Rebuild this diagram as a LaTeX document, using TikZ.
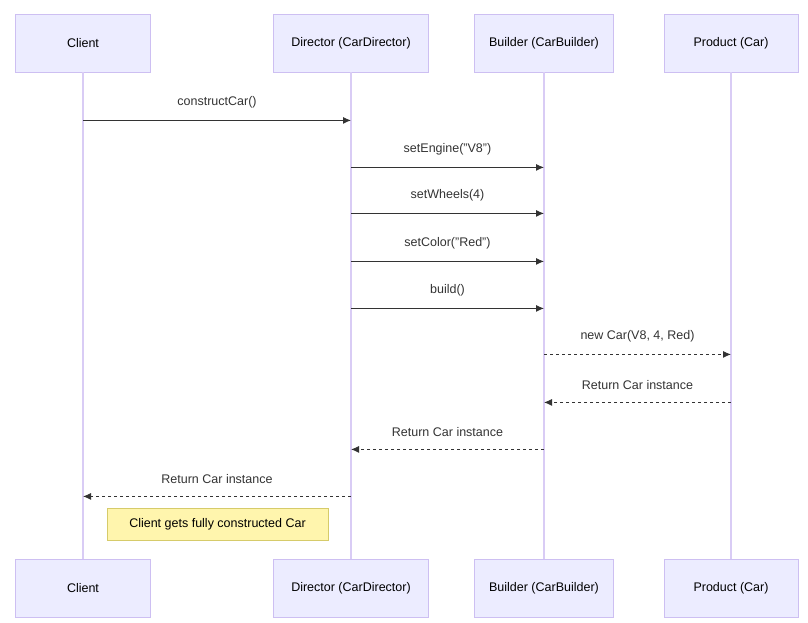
\documentclass[tikz,border=0pt]{standalone}
\usepackage{fontspec}
\setmainfont{Liberation Sans}
\usepackage{tikz}
\usetikzlibrary{arrows.meta,positioning,calc}
\definecolor{actorfill}{HTML}{ECECFF}
\definecolor{actorline}{HTML}{CDBFF2}
\definecolor{lifeline}{HTML}{D9CCF5}
\definecolor{notefill}{HTML}{FFF5AD}
\definecolor{noteline}{HTML}{D6CB6A}
\definecolor{msg}{HTML}{333333}
\tikzset{
  actor/.style={draw=actorline, fill=actorfill, line width=0.8pt, minimum height=58pt, inner sep=0pt, font=\fontsize{12.5}{14}\selectfont},
  call/.style={draw=msg, line width=0.9pt, -{Latex[length=8pt,width=7pt]}},
  reply/.style={call, dashed},
  lbl/.style={font=\fontsize{12.5}{14}\selectfont, text=msg},
}
\begin{document}
\begin{tikzpicture}[x=1pt,y=-1pt]

    \useasboundingbox (0,0) rectangle (808,622);

    % actors, top and bottom
    \foreach \name/\x/\w/\txt in {cl/83/135/Client, di/351/155/Director (CarDirector), bu/544/139/Builder (CarBuilder), pr/731/134/Product (Car)}{
      \node[actor, minimum width=\w pt] (\name top) at (\x,43) {\txt};
      \node[actor, minimum width=\w pt] (\name bot) at (\x,588) {\txt};
      \draw[lifeline, line width=1.2pt] (\name top.south) -- (\name bot.north);
    }

    % messages
    \draw[call] ($(cltop.south)+(0,48)$) -- ($(ditop.south)+(0,48)$)
      node[lbl, midway, above=9pt] {constructCar()};
    \foreach \y/\txt in {95/setEngine("V8"), 141/setWheels(4), 189/setColor("Red"), 236/build()}{
      \draw[call] ($(ditop.south)+(0,\y)$) -- ($(butop.south)+(0,\y)$)
        node[lbl, midway, above=9pt] {\txt};
    }
    \draw[reply] ($(butop.south)+(0,282)$) -- ($(prtop.south)+(0,282)$)
      node[lbl, midway, above=9pt] {new Car(V8, 4, Red)};
    \draw[reply] ($(prtop.south)+(0,330)$) -- ($(butop.south)+(0,330)$)
      node[lbl, midway, above=9pt] {Return Car instance};
    \draw[reply] ($(butop.south)+(0,377)$) -- ($(ditop.south)+(0,377)$)
      node[lbl, midway, above=9pt] {Return Car instance};
    \draw[reply] ($(ditop.south)+(0,424)$) -- ($(cltop.south)+(0,424)$)
      node[lbl, midway, above=9pt] {Return Car instance};

    % note
    \node[draw=noteline, fill=notefill, line width=0.8pt, minimum width=221pt, minimum height=32pt,
          lbl, text=black] (note) at (217.5,524) {Client gets fully constructed Car};

\end{tikzpicture}
\end{document}
